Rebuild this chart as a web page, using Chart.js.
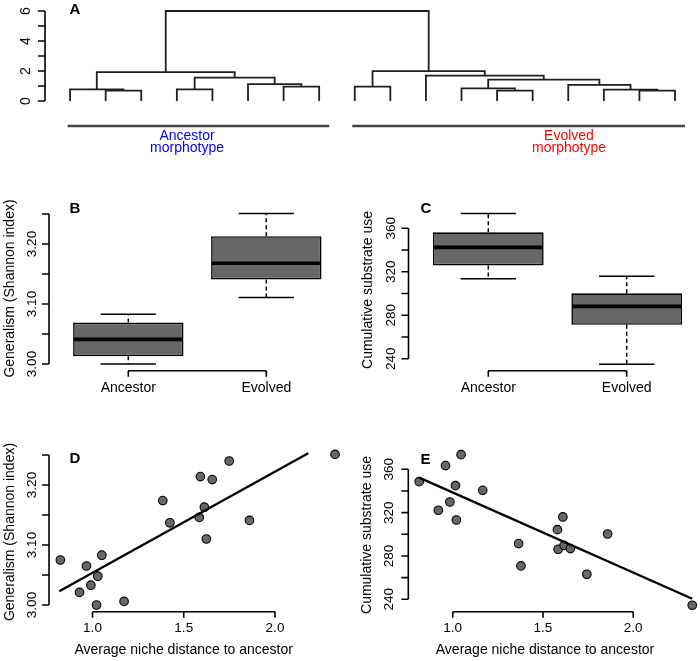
<!DOCTYPE html>
<html>
<head>
<meta charset="utf-8">
<script src="https://cdn.jsdelivr.net/npm/chart.js@4.4.0/dist/chart.umd.min.js"></script>
<style>
  body { margin: 0; background: #fff; }
  #wrap { position: relative; width: 700px; height: 661px; }
  #wrap canvas { position: absolute; left: 0; top: 0; }
</style>
</head>
<body>
<div id="wrap">
  <canvas id="chartA" width="700" height="661"></canvas>
  <canvas id="chartB" width="700" height="661"></canvas>
  <canvas id="chartC" width="700" height="661"></canvas>
  <canvas id="chartD" width="700" height="661"></canvas>
  <canvas id="chartE" width="700" height="661"></canvas>
</div>
<script>
// ---- data ----
// dendrogram (hclust style: negative = leaf, positive = earlier merge)
const leafCount = 18;
const mergeLeft   = [-2, -1, -4, -7, -6, 3, 2, -9, -13, -12, -17, -16, -15, 10, -11, 8, 7];
const mergeRight  = [-3, 1, -5, -8, 4, 5, 6, -10, -14, 9, -18, 11, 12, 13, 14, 15, 16];
const mergeHeight = [0.69, 0.78, 0.78, 0.96, 1.13, 1.56, 1.93, 0.96, 0.69, 0.84, 0.69, 0.76, 1.07, 1.42, 1.69, 1.99, 6.0];
const treeTicks = [0, 1, 2, 3, 4, 5, 6];
const treeTickLabels = ['0', '', '2', '', '4', '', '6'];

const groups = ['Ancestor', 'Evolved'];
const groupFirstLeaf = [1, 9];
const groupLastLeaf = [8, 18];

// box plots
const genMin = [3.000, 3.111];
const genQ1  = [3.013, 3.141];
const genMed = [3.041, 3.168];
const genQ3  = [3.069, 3.213];
const genMax = [3.083, 3.251];

const subMin = [313.7, 235.1];
const subQ1  = [325.9, 271.3];
const subMed = [342.5, 288.2];
const subQ3  = [356.3, 300.2];
const subMax = [373.5, 315.8];

const genTicks = [3.00, 3.05, 3.10, 3.15, 3.20, 3.25];
const genTickLabels = ['3.00', '', '3.10', '', '3.20', ''];
const subTicks = [240, 260, 280, 300, 320, 340, 360];
const subTickLabels = ['240', '', '280', '', '320', '', '360'];
const distTicks = [1.0, 1.5, 2.0];
const distTickLabels = ['1.0', '1.5', '2.0'];

// scatter panels
const nicheDistD = [0.824, 0.929, 0.967, 0.991, 1.022, 1.029, 1.051, 1.173, 1.385, 1.424, 1.585, 1.591, 1.613, 1.624, 1.656, 1.749, 1.860, 2.329];
const generalism = [3.075, 3.021, 3.065, 3.033, 3.000, 3.048, 3.083, 3.006, 3.174, 3.137, 3.146, 3.214, 3.163, 3.110, 3.209, 3.240, 3.141, 3.251];
const nicheDistE = [0.814, 0.920, 0.960, 0.984, 1.015, 1.020, 1.046, 1.166, 1.365, 1.378, 1.580, 1.584, 1.610, 1.617, 1.652, 1.743, 1.858, 2.327];
const substrate  = [348.6, 322.2, 363.4, 329.8, 344.9, 313.2, 373.5, 340.6, 291.4, 270.8, 304.3, 286.2, 316.0, 289.8, 286.8, 263.1, 300.3, 234.5];
const fitDx = [0.818, 2.182];
const fitDy = [3.023, 3.253];
const fitEx = [0.814, 2.327];
const fitEy = [352.3, 240.5];

// ---- helpers ----
const W = 700, H = 661;
const FONT = "'Liberation Sans', Arial, Helvetica, sans-serif";
const GREY = '#676767';
const AXW = 1.6;

// pixel of lo/hi given two anchor pixels
function span(p0, v0, p1, v1, lo, hi) {
  const k = (p1 - p0) / (v1 - v0);
  return [p0 + (lo - v0) * k, p0 + (hi - v0) * k];
}
function pad(xs, ys) {
  return { left: xs[0], right: W - xs[1], top: ys[1], bottom: H - ys[0] };
}
function baseOptions(padding, scales) {
  return {
    responsive: false,
    animation: false,
    events: [],
    layout: { padding: padding },
    plugins: { legend: { display: false }, tooltip: { enabled: false } },
    scales: scales
  };
}

function text(ctx, str, x, y, size, opts) {
  opts = opts || {};
  ctx.save();
  ctx.translate(x, y);
  if (opts.rotate) ctx.rotate(-Math.PI / 2);
  ctx.font = (opts.bold ? 'bold ' : '') + size + 'px ' + FONT;
  ctx.fillStyle = opts.color || '#000';
  ctx.textAlign = 'center';
  ctx.textBaseline = 'middle';
  ctx.fillText(str, 0, 0);
  ctx.restore();
}

function yAxis(chart, a) {
  const ctx = chart.ctx, s = chart.scales.y;
  const y0 = s.getPixelForValue(a.ticks[0]);
  const y1 = s.getPixelForValue(a.ticks[a.ticks.length - 1]);
  ctx.save();
  ctx.strokeStyle = '#000';
  ctx.lineWidth = AXW;
  ctx.beginPath();
  ctx.moveTo(a.at, y0); ctx.lineTo(a.at, y1);
  a.ticks.forEach(t => {
    const y = s.getPixelForValue(t);
    ctx.moveTo(a.at, y); ctx.lineTo(a.at - 7, y);
  });
  ctx.stroke();
  ctx.restore();
  a.ticks.forEach((t, i) => {
    if (a.labels[i]) text(ctx, a.labels[i], a.labelAt, s.getPixelForValue(t), a.size || 13.5, { rotate: true });
  });
  if (a.title) text(ctx, a.title, a.titleAt[0], a.titleAt[1], 14, { rotate: true });
}

function xAxis(chart, a) {
  const ctx = chart.ctx, s = chart.scales.x;
  const x0 = s.getPixelForValue(a.ticks[0]);
  const x1 = s.getPixelForValue(a.ticks[a.ticks.length - 1]);
  ctx.save();
  ctx.strokeStyle = '#000';
  ctx.lineWidth = AXW;
  ctx.beginPath();
  ctx.moveTo(x0, a.at); ctx.lineTo(x1, a.at);
  a.ticks.forEach(t => {
    const x = s.getPixelForValue(t);
    ctx.moveTo(x, a.at); ctx.lineTo(x, a.at + 6);
  });
  ctx.stroke();
  ctx.restore();
  a.ticks.forEach((t, i) => {
    text(ctx, a.labels[i], s.getPixelForValue(t), a.labelAt, a.labelSize || 13.5);
  });
  if (a.title) text(ctx, a.title, a.titleAt[0], a.titleAt[1], 14);
}

// ---- panel A: dendrogram ----
(function () {
  const nodeX = [], nodeH = [];
  const posOf = id => id < 0 ? -id : nodeX[id - 1];
  const hOf = id => id < 0 ? 0 : nodeH[id - 1];
  const datasets = [];
  for (let i = 0; i < mergeHeight.length; i++) {
    const xl = posOf(mergeLeft[i]), xr = posOf(mergeRight[i]);
    const h = mergeHeight[i];
    nodeX.push((xl + xr) / 2);
    nodeH.push(h);
    datasets.push({
      data: [
        { x: xl, y: hOf(mergeLeft[i]) }, { x: xl, y: h },
        { x: xr, y: h }, { x: xr, y: hOf(mergeRight[i]) }
      ],
      showLine: true, pointRadius: 0, borderColor: '#1e1e1e', borderWidth: 1.8,
      tension: 0, clip: false
    });
  }
  const xs = span(70.1, 1, 675, leafCount, 0.5, 18.5);
  const ys = span(101, 0, 11, 6, -0.3, 6.3);
  const labelX = [187, 569];
  const labelColor = ['#0000ff', '#ff0000'];
  new Chart(document.getElementById('chartA'), {
    type: 'scatter',
    data: { datasets: datasets },
    options: baseOptions(pad(xs, ys), {
      x: { type: 'linear', display: false, min: 0.5, max: 18.5 },
      y: { type: 'linear', display: false, min: -0.3, max: 6.3 }
    }),
    plugins: [{
      id: 'panelA',
      afterDraw(chart) {
        const ctx = chart.ctx, sx = chart.scales.x;
        yAxis(chart, { at: 45, ticks: treeTicks, labels: treeTickLabels, labelAt: 26.5, size: 14 });
        ctx.save();
        ctx.strokeStyle = '#444';
        ctx.lineWidth = 2.6;
        groups.forEach((g, i) => {
          ctx.beginPath();
          ctx.moveTo(sx.getPixelForValue(groupFirstLeaf[i] - 0.07), 126);
          ctx.lineTo(sx.getPixelForValue(groupLastLeaf[i] + 0.28), 126);
          ctx.stroke();
          text(ctx, g, labelX[i], 136, 14, { color: labelColor[i] });
          text(ctx, 'morphotype', labelX[i], 148.5, 14, { color: labelColor[i] });
        });
        ctx.restore();
        text(ctx, 'A', 75, 10, 15, { bold: true });
      }
    }]
  });
})();

// ---- panels B and C: box plots ----
function boxPanel(id, c0, c1, yAnchor, yRange, stats, axis, letter) {
  const half = (c1 - c0) / 2;
  const xs = [c0 - half, c1 + half];
  const ys = span(yAnchor[0], yAnchor[1], yAnchor[2], yAnchor[3], yRange[0], yRange[1]);
  new Chart(document.getElementById(id), {
    type: 'bar',
    data: {
      labels: groups,
      datasets: [{
        data: groups.map((g, i) => [stats.q1[i], stats.q3[i]]),
        backgroundColor: GREY, borderColor: '#000', borderWidth: 1.6,
        borderSkipped: false, barPercentage: 0.8, categoryPercentage: 1
      }]
    },
    options: baseOptions(pad(xs, ys), {
      x: { display: false, offset: true },
      y: { type: 'linear', display: false, min: yRange[0], max: yRange[1] }
    }),
    plugins: [{
      id: 'box' + id,
      afterDatasetsDraw(chart) {
        const ctx = chart.ctx, sy = chart.scales.y;
        chart.getDatasetMeta(0).data.forEach((el, i) => {
          const x = el.x, w = el.width;
          ctx.save();
          ctx.strokeStyle = '#000';
          ctx.lineWidth = 1.5;
          ctx.setLineDash([4, 3]);
          ctx.beginPath();
          ctx.moveTo(x, sy.getPixelForValue(stats.q3[i]));
          ctx.lineTo(x, sy.getPixelForValue(stats.max[i]));
          ctx.moveTo(x, sy.getPixelForValue(stats.q1[i]));
          ctx.lineTo(x, sy.getPixelForValue(stats.min[i]));
          ctx.stroke();
          ctx.setLineDash([]);
          ctx.beginPath();
          [stats.max[i], stats.min[i]].forEach(v => {
            const y = sy.getPixelForValue(v);
            ctx.moveTo(x - w / 4, y); ctx.lineTo(x + w / 4, y);
          });
          ctx.stroke();
          ctx.lineWidth = 3.6;
          ctx.beginPath();
          const ym = sy.getPixelForValue(stats.med[i]);
          ctx.moveTo(x - w / 2 + 0.8, ym); ctx.lineTo(x + w / 2 - 0.8, ym);
          ctx.stroke();
          ctx.restore();
        });
      },
      afterDraw(chart) {
        yAxis(chart, axis.y);
        xAxis(chart, { at: 370.7, ticks: [0, 1], labels: groups, labelAt: 388, labelSize: 14 });
        text(chart.ctx, letter[0], letter[1], letter[2], 15, { bold: true });
      }
    }]
  });
}

boxPanel('chartB', 128.3, 266.3, [364, 3.00, 214, 3.25], [2.99, 3.26],
  { min: genMin, q1: genQ1, med: genMed, q3: genQ3, max: genMax },
  { y: { at: 49, ticks: genTicks, labels: genTickLabels, labelAt: 32.5,
         title: 'Generalism (Shannon index)', titleAt: [10, 288.5] } },
  ['B', 75, 209]);

boxPanel('chartC', 488.3, 626.7, [358.8, 240, 228.3, 360], [230, 380],
  { min: subMin, q1: subQ1, med: subMed, q3: subQ3, max: subMax },
  { y: { at: 408.5, ticks: subTicks, labels: subTickLabels, labelAt: 391.5,
         title: 'Cumulative substrate use', titleAt: [368, 290] } },
  ['C', 426, 209]);

// ---- panels D and E: scatter with fitted line ----
function scatterPanel(id, xAnchor, xRange, yAnchor, yRange, xv, yv, fx, fy, axes, letter) {
  const xs = span(xAnchor[0], xAnchor[1], xAnchor[2], xAnchor[3], xRange[0], xRange[1]);
  const ys = span(yAnchor[0], yAnchor[1], yAnchor[2], yAnchor[3], yRange[0], yRange[1]);
  new Chart(document.getElementById(id), {
    type: 'scatter',
    data: {
      datasets: [{
        data: fx.map((x, i) => ({ x: x, y: fy[i] })),
        showLine: true, pointRadius: 0, borderColor: '#000', borderWidth: 2.3,
        clip: false, order: 0
      }, {
        data: xv.map((x, i) => ({ x: x, y: yv[i] })),
        pointRadius: 4.3, pointBackgroundColor: GREY, pointBorderColor: '#000',
        pointBorderWidth: 1.1, clip: false, order: 1
      }]
    },
    options: baseOptions(pad(xs, ys), {
      x: { type: 'linear', display: false, min: xRange[0], max: xRange[1] },
      y: { type: 'linear', display: false, min: yRange[0], max: yRange[1] }
    }),
    plugins: [{
      id: 'sc' + id,
      afterDraw(chart) {
        yAxis(chart, axes.y);
        xAxis(chart, axes.x);
        text(chart.ctx, letter[0], letter[1], letter[2], 15, { bold: true });
      }
    }]
  });
}

scatterPanel('chartD', [92.5, 1.0, 275, 2.0], [0.7, 2.4], [605, 3.00, 455, 3.25], [2.99, 3.26],
  nicheDistD, generalism, fitDx, fitDy,
  { y: { at: 49, ticks: genTicks, labels: genTickLabels, labelAt: 32.5,
         title: 'Generalism (Shannon index)', titleAt: [10, 532] },
    x: { at: 611.7, ticks: distTicks, labels: distTickLabels, labelAt: 628,
         title: 'Average niche distance to ancestor', titleAt: [183.7, 650] } },
  ['D', 75, 459]);

scatterPanel('chartE', [453.3, 1.0, 636, 2.0], [0.75, 2.34], [599.3, 240, 469.3, 360], [230, 380],
  nicheDistE, substrate, fitEx, fitEy,
  { y: { at: 408.3, ticks: subTicks, labels: subTickLabels, labelAt: 389.5,
         title: 'Cumulative substrate use', titleAt: [367, 535] },
    x: { at: 611.7, ticks: distTicks, labels: distTickLabels, labelAt: 628,
         title: 'Average niche distance to ancestor', titleAt: [545, 650] } },
  ['E', 425.5, 459.5]);
</script>
</body>
</html>
